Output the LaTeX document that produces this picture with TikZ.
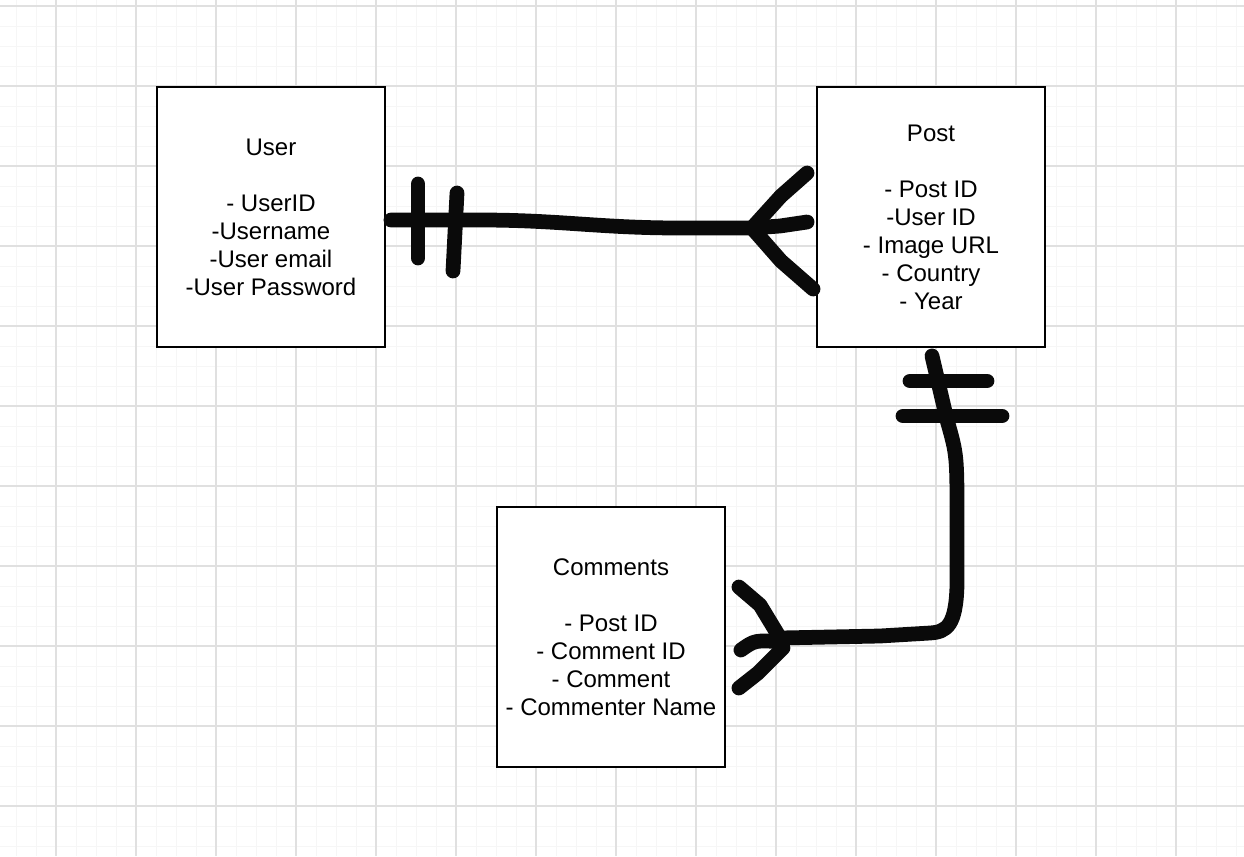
\documentclass[tikz,border=0pt]{standalone}
\usepackage{fontspec}
\setmainfont{Liberation Sans}
\usetikzlibrary{calc,positioning}

\definecolor{gridmajor}{HTML}{E0E0E0}
\definecolor{gridminor}{HTML}{F6F6F6}
\definecolor{ink}{HTML}{0A0A0A}

\tikzset{
  entity/.style={draw, line width=1.1pt, fill=white, minimum width=4.56cm,
    minimum height=5.2cm, align=center, inner sep=0pt,
    font=\fontsize{13.66pt}{15.94pt}\selectfont},
  scrawl/.style={draw=ink, line width=8.4pt, line cap=round, line join=round}
}

\begin{document}
\begin{tikzpicture}[x=0.02cm, y=-0.02cm]
    \useasboundingbox (0,0) rectangle (1244,856);
    % paper grid
    \foreach \gx in {16,36,...,1244} \draw[gridminor, line width=0.5pt] (\gx,0) -- (\gx,856);
    \foreach \gy in {6,26,...,856} \draw[gridminor, line width=0.5pt] (0,\gy) -- (1244,\gy);
    \foreach \gx in {56,136,...,1244} \draw[gridmajor, line width=0.6pt] (\gx,0) -- (\gx,856);
    \foreach \gy in {6,86,...,856} \draw[gridmajor, line width=0.6pt] (0,\gy) -- (1244,\gy);

    \node[entity] (user) at (271,217) {User\\[0.56cm]- UserID\\-Username\\-User email\\-User Password};
    \node[entity] (post) at (931,217) {Post\\[0.56cm]- Post ID\\-User ID\\- Image URL\\- Country\\- Year};
    \node[entity] (comments) at (611,637) {Comments\\[0.56cm]- Post ID\\- Comment ID\\- Comment\\- Commenter Name};

    % user -- post
    \coordinate (forkpost) at (752,228);
    \draw[scrawl] ([shift={(5,3)}]user.east) -- (480,220)
      .. controls (560,220) and (600,228) .. (680,228) -- (forkpost);
    \draw[scrawl] (forkpost) -- (781,196) -- ([shift={(-9,-44)}]post.west);
    \draw[scrawl] (forkpost) -- (780,226) -- ([shift={(-9,5)}]post.west);
    \draw[scrawl] (forkpost) -- (781,261) -- ([shift={(-3,72)}]post.west);
    \draw[scrawl] (418,184) -- (418,258);
    \draw[scrawl] (457,193) -- (453,271);

    % post -- comments
    \coordinate (forkcomm) at (780,638);
    \draw[scrawl] ([shift={(1,8)}]post.south) -- (947,420)
      .. controls (957,455) .. (957,520) -- (957,585)
      .. controls (956,625) and (947,632) .. (930,633) -- (880,636) -- (forkcomm);
    \draw[scrawl] (forkcomm) -- (760,605) -- ([shift={(13,-50)}]comments.east);
    \draw[scrawl] (783,642) .. controls (755,640) .. ([shift={(15,13)}]comments.east);
    \draw[scrawl] (783,648) -- (758,673) -- ([shift={(13,51)}]comments.east);
    \draw[scrawl] (910,381) -- (987,381);
    \draw[scrawl] (903,416) -- (1002,416);
\end{tikzpicture}
\end{document}
